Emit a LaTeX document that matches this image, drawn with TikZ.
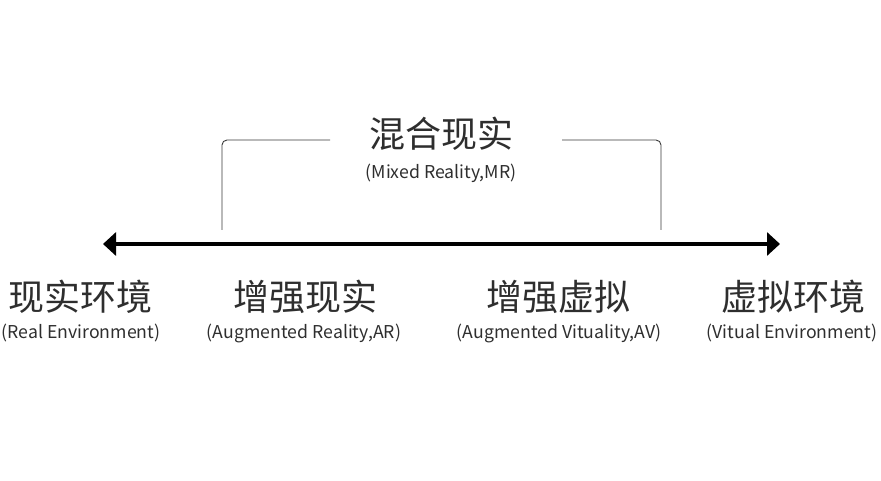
\documentclass[tikz,border=0pt]{standalone}
\usepackage{fontspec}
\setmainfont{Noto Sans CJK SC}
\usetikzlibrary{positioning,arrows.meta}
\definecolor{mrtexto}{HTML}{2E2E2E}
\definecolor{mrlinha}{HTML}{3A3A3A}
\tikzset{
  mrtitulo/.style={font=\fontsize{36}{42}\selectfont, text=mrtexto, inner sep=0pt},
  mrsub/.style={font=\fontsize{17.7}{21}\selectfont, text=mrtexto, inner sep=0pt},
  mreixo/.style={{Triangle[length=13pt,width=23pt]}-{Triangle[length=13pt,width=23pt]}, line width=4pt},
  mrchave/.style={draw=mrlinha, line width=0.9pt, rounded corners=5pt},
}

\begin{document}
\begin{tikzpicture}[x=1pt, y=-1pt]
    \useasboundingbox (0,0) rectangle (881,481);
    % eixo do continuo
    \coordinate (esq) at (103,244);
    \coordinate (dir) at (780,244);
    \draw[mreixo] (esq) -- (dir);
    % realidade mista e chave
    \node[mrtitulo] (mr) at (441,134) {混合现实};
    \node[mrsub] (mrsub) at (441,173) {(Mixed Reality,MR)};
    \coordinate (chaveesq) at (222,230);
    \coordinate (chavedir) at (661,230);
    \coordinate (chaveesqfim) at (330,140);
    \coordinate (chavedirfim) at (562,140);
    \draw[mrchave] (chaveesq) |- (chaveesqfim);
    \draw[mrchave] (chavedir) |- (chavedirfim);
    % rotulos do eixo
    \node[mrtitulo] (re) at (81,297) {现实环境};
    \node[mrsub] (resub) at (81,333) {(Real Environment)};
    \node[mrtitulo] (ar) at (305,297) {增强现实};
    \node[mrsub] (arsub) at (304,333) {(Augmented Reality,AR)};
    \node[mrtitulo] (av) at (558,297) {增强虚拟};
    \node[mrsub] (avsub) at (559,333) {(Augmented Vituality,AV)};
    \node[mrtitulo] (ve) at (793,297) {虚拟环境};
    \node[mrsub] (vesub) at (792,333) {(Vitual Environment)};
\end{tikzpicture}
\end{document}
